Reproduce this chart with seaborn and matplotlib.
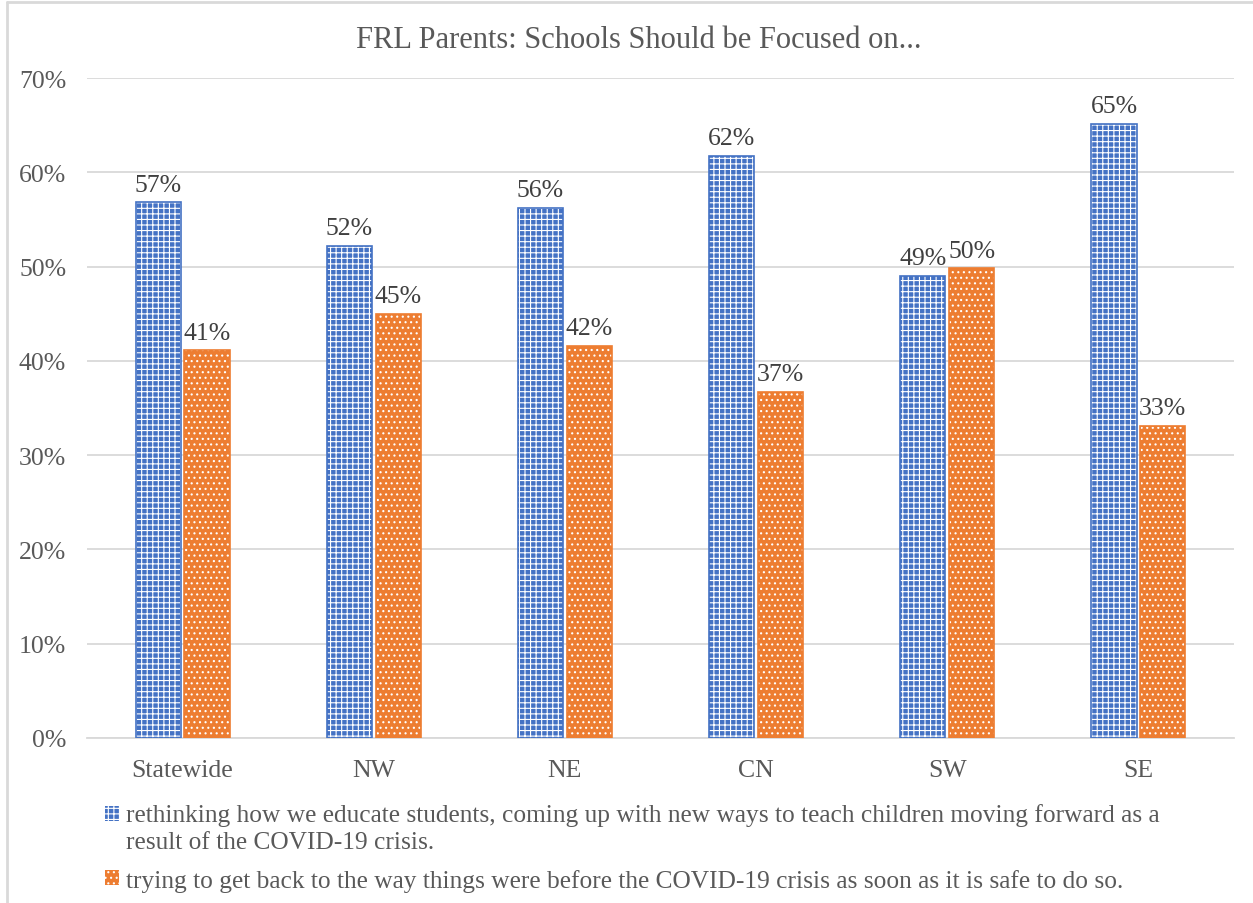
import matplotlib
matplotlib.use("Agg")
import matplotlib.pyplot as plt
import seaborn as sns
import pandas as pd
from matplotlib.lines import Line2D
from matplotlib.patches import Patch, Rectangle
from matplotlib.legend_handler import HandlerPatch

regions = ["Statewide", "NW", "NE", "CN", "SW", "SE"]
rethinking = [56.8, 52.2, 56.2, 61.7, 49.0, 65.1]
get_back = [41.1, 45.0, 41.6, 36.7, 49.8, 33.1]
series_names = [
    "rethinking how we educate students, coming up with new ways to teach children moving forward as a\nresult of the COVID-19 crisis.",
    "trying to get back to the way things were before the COVID-19 crisis as soon as it is safe to do so.",
]
title = "FRL Parents: Schools Should be Focused on..."
y_ticks = [0, 10, 20, 30, 40, 50, 60, 70]

blue = "#4472C4"
orange = "#ED7D31"
text_gray = "#595959"
grid_gray = "#D9D9D9"
blue_hatch = "+++"
orange_hatch = "..."

df = pd.DataFrame({
    "region": regions * 2,
    "value": rethinking + get_back,
    "series": [series_names[0]] * len(regions) + [series_names[1]] * len(regions),
})

sns.set_theme(style="white")
plt.rcParams["font.family"] = ["Liberation Serif", "DejaVu Serif"]
plt.rcParams["hatch.linewidth"] = 0.8

fig = plt.figure(figsize=(12.53, 9.04), dpi=100)
ax = fig.add_axes([87 / 1253, 1 - 739 / 904, (1234 - 87) / 1253, (739 - 79) / 904])

palette = {series_names[0]: blue, series_names[1]: orange}
bar_kw = dict(data=df, x="region", y="value", hue="series", order=regions,
              hue_order=series_names, palette=palette, width=0.51, gap=0.075,
              ax=ax, legend=False, zorder=3)

# patterned fill: white hatch drawn over the series colour
sns.barplot(**bar_kw, saturation=1, edgecolor="white", linewidth=0)
n = len(regions)
for i, p in enumerate(ax.patches):
    p.set_hatch(blue_hatch if i < n else orange_hatch)
fill_count = len(ax.patches)

# coloured outlines on top of the patterned fill
sns.barplot(**bar_kw, saturation=1, fill=False, linewidth=1.2)
for i, p in enumerate(ax.patches[fill_count:]):
    p.set_edgecolor(blue if i < n else orange)

# value labels
for cont, vals in zip(ax.containers[:2], [rethinking, get_back]):
    ax.bar_label(cont, labels=[f"{v:.0f}%" for v in vals], padding=5,
                 fontsize=18.5, color="#404040")

ax.set_ylim(0, 70)
ax.set_yticks(y_ticks)
ax.set_yticklabels([f"{t}%" for t in y_ticks])
ax.set_xlim(-0.5, n - 0.5)
ax.yaxis.grid(True, color=grid_gray, linewidth=1.3, zorder=0)
ax.set_axisbelow(True)
for s in ["top", "right", "left"]:
    ax.spines[s].set_visible(False)
ax.spines["bottom"].set_color(grid_gray)
ax.spines["bottom"].set_linewidth(1.3)
ax.tick_params(axis="both", length=0, labelsize=18.5, colors=text_gray)
ax.tick_params(axis="x", pad=15)
ax.tick_params(axis="y", pad=15)
ax.set_xlabel("")
ax.set_ylabel("")

fig.text(0.51, 1 - 41 / 904, title, ha="center", va="center", fontsize=22,
         color=text_gray)


def first_line_box(legend, orig_handle, xdescent, ydescent, width, height, fontsize):
    # keep the swatch level with the first line of a two-line label
    return Rectangle((-xdescent, -ydescent + 0.55 * fontsize), width, height)


handles = [Patch(facecolor=blue, edgecolor="white", hatch=blue_hatch, linewidth=0),
           Patch(facecolor=orange, edgecolor="white", hatch=orange_hatch, linewidth=0)]
leg = fig.legend(handles, series_names, loc="upper left",
                 bbox_to_anchor=(82 / 1253, 1 - 781 / 904), frameon=False,
                 fontsize=18.3, handlelength=0.55, handleheight=0.55,
                 handletextpad=0.3, labelspacing=0.62, labelcolor=text_gray,
                 handler_map={handles[0]: HandlerPatch(patch_func=first_line_box)})
for t in leg.get_texts():
    t.set_linespacing(1.3)

# light frame on the left and top edges of the figure
fig.add_artist(Line2D([7 / 1253, 7 / 1253], [0, 1 - 3 / 904],
                      transform=fig.transFigure, color="#D9D9D9", linewidth=2))
fig.add_artist(Line2D([7 / 1253, 1], [1 - 3 / 904, 1 - 3 / 904],
                      transform=fig.transFigure, color="#D9D9D9", linewidth=2))

fig.savefig("out.png", dpi=100)
